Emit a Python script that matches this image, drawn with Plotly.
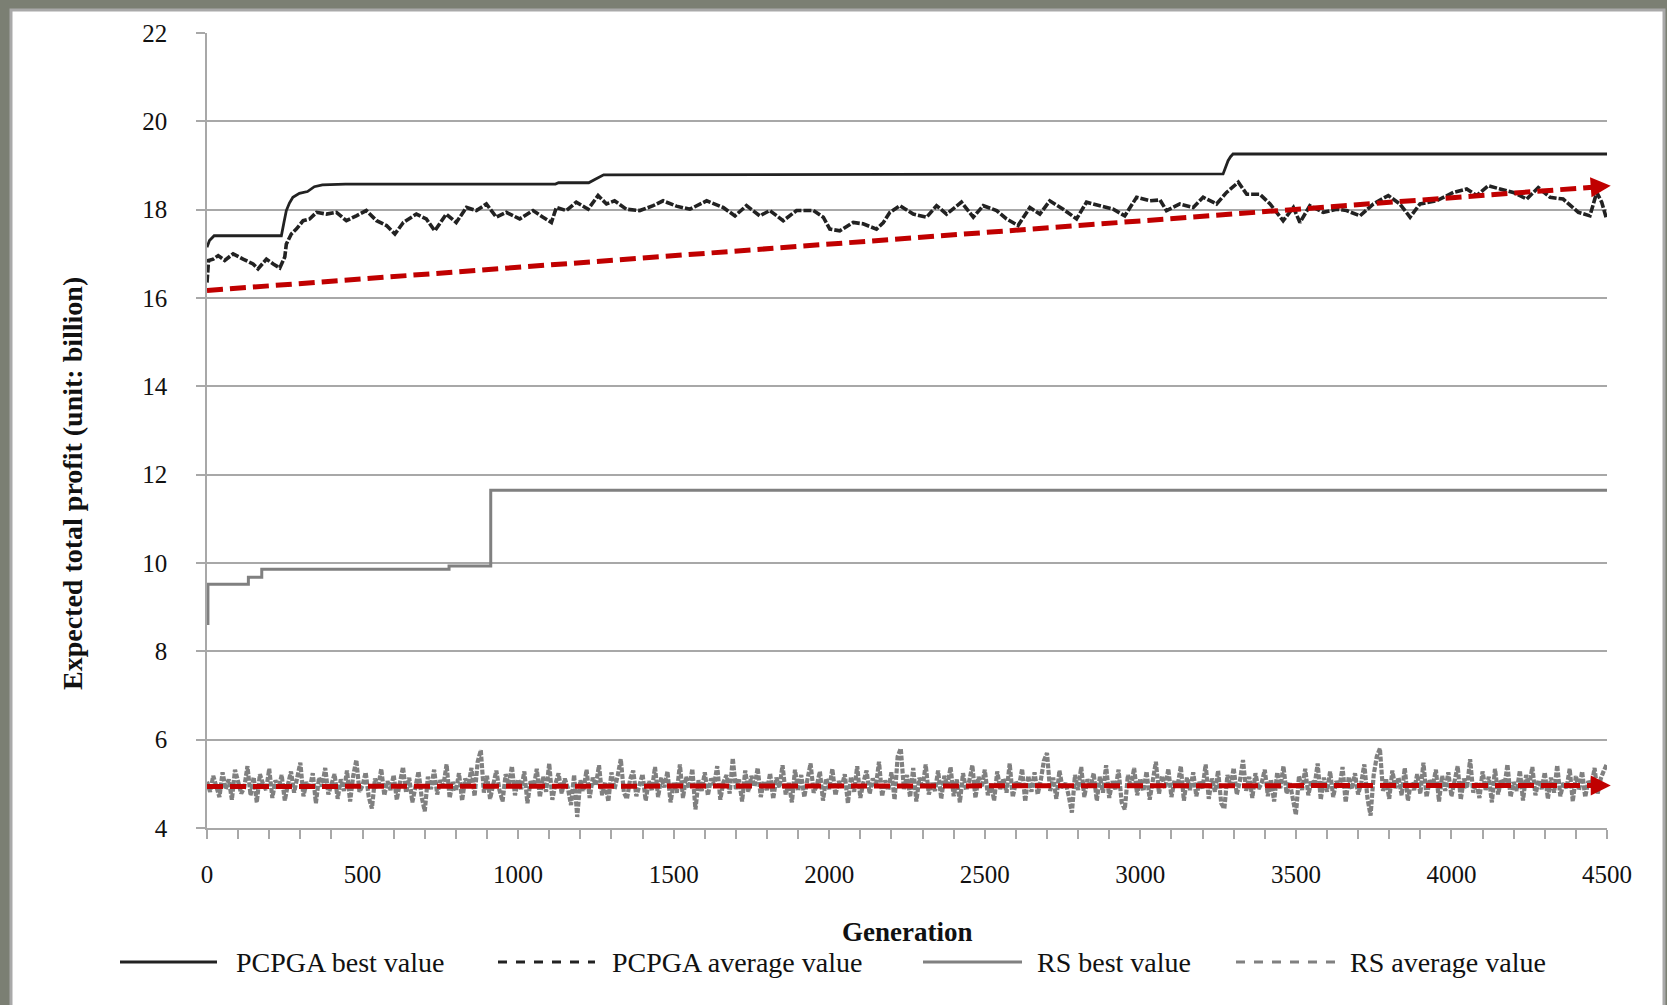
import plotly.graph_objects as go

# ---------------- data ----------------
pcpga_best_gen = [0, 8, 23, 239, 247, 255, 265, 276, 297, 323, 345, 371, 445,
                  1120, 1130, 1227, 1248, 1275, 3266, 3276, 3282, 3290, 3298, 4500]
pcpga_best_val = [17.15, 17.30, 17.41, 17.41, 17.70, 17.98, 18.15, 18.28, 18.37, 18.41, 18.52, 18.56, 18.58,
                  18.58, 18.61, 18.61, 18.69, 18.79, 18.81, 19.00, 19.11, 19.20, 19.26, 19.26]

pcpga_avg_gen = [0, 5, 20, 36, 57, 84, 116, 148, 164, 191,
                 213, 234, 250, 255, 271, 287, 309, 330, 352, 384,
                 416, 448, 480, 512, 545, 577, 604, 631, 673, 705,
                 732, 769, 801, 834, 866, 898, 930, 962, 1005, 1048,
                 1080, 1107, 1123, 1155, 1187, 1225, 1257, 1284, 1310, 1348,
                 1391, 1434, 1466, 1509, 1552, 1606, 1659, 1697, 1734, 1777,
                 1809, 1852, 1895, 1949, 1981, 2002, 2034, 2077, 2109, 2152,
                 2174, 2195, 2227, 2270, 2313, 2345, 2377, 2425, 2463, 2495,
                 2538, 2570, 2607, 2645, 2677, 2709, 2752, 2795, 2827, 2870,
                 2913, 2950, 2988, 3031, 3063, 3084, 3127, 3170, 3202, 3245,
                 3277, 3315, 3342, 3384, 3417, 3459, 3492, 3513, 3545, 3588,
                 3631, 3663, 3706, 3749, 3797, 3834, 3867, 3899, 3952, 4006,
                 4049, 4081, 4118, 4156, 4199, 4242, 4279, 4317, 4359, 4408,
                 4445, 4467, 4483, 4497]
pcpga_avg_val = [16.35, 16.85, 16.88, 16.96, 16.85, 17.00, 16.88, 16.77, 16.66, 16.88,
                 16.77, 16.68, 16.93, 17.22, 17.45, 17.56, 17.75, 17.79, 17.94, 17.90,
                 17.94, 17.75, 17.86, 17.98, 17.75, 17.64, 17.45, 17.71, 17.90, 17.79,
                 17.52, 17.90, 17.71, 18.05, 17.98, 18.13, 17.83, 17.94, 17.79, 17.98,
                 17.83, 17.71, 18.05, 17.98, 18.17, 18.01, 18.32, 18.13, 18.20, 18.01,
                 17.98, 18.09, 18.20, 18.08, 18.01, 18.20, 18.05, 17.86, 18.09, 17.86,
                 17.98, 17.75, 17.98, 17.98, 17.83, 17.56, 17.52, 17.71, 17.68, 17.56,
                 17.71, 17.94, 18.09, 17.90, 17.83, 18.09, 17.90, 18.17, 17.83, 18.09,
                 17.98, 17.79, 17.64, 18.05, 17.90, 18.20, 18.01, 17.79, 18.17, 18.09,
                 18.01, 17.86, 18.28, 18.20, 18.22, 17.98, 18.13, 18.05, 18.28, 18.13,
                 18.39, 18.62, 18.35, 18.35, 18.13, 17.75, 18.05, 17.71, 18.09, 17.94,
                 18.01, 17.98, 17.86, 18.13, 18.32, 18.13, 17.83, 18.13, 18.20, 18.39,
                 18.47, 18.32, 18.54, 18.47, 18.39, 18.24, 18.50, 18.28, 18.24, 17.94,
                 17.86, 18.39, 18.17, 17.83]

rs_best_gen = [0, 3, 133, 176, 778, 912, 4500]
rs_best_val = [8.63, 9.52, 9.68, 9.86, 9.93, 11.65, 11.65]

rs_avg_gen = list(range(0, 4501, 10))
rs_avg_val = [
    5.05, 4.82, 5.18, 4.96, 4.70, 5.26, 4.88, 5.10, 4.64, 5.32, 5.02, 4.78, 4.92, 5.40, 4.74, 5.15, 4.58, 5.22, 5.00, 4.86,
    5.34, 4.68, 5.08, 4.90, 5.20, 4.62, 4.98, 5.28, 4.80, 5.12, 5.48, 4.72, 5.04, 4.88, 5.24, 4.56, 5.14, 4.94, 5.36, 4.76,
    5.00, 5.22, 4.66, 5.10, 4.84, 5.30, 4.60, 5.18, 5.54, 4.82, 4.96, 5.26, 4.70, 4.44, 5.12, 4.90, 5.34, 4.74, 5.06, 4.86,
    5.20, 4.64, 5.02, 5.38, 4.80, 5.14, 4.58, 4.92, 5.28, 4.70, 4.38, 5.16, 4.88, 5.32, 4.76, 5.08, 4.96, 5.44, 4.68, 5.04,
    4.84, 5.24, 4.62, 5.12, 4.94, 5.36, 4.72, 5.50, 5.76, 4.80, 5.18, 4.66, 5.02, 5.30, 4.86, 4.60, 5.22, 4.98, 5.40, 4.74,
    5.10, 4.88, 5.28, 4.56, 5.06, 4.92, 5.34, 4.70, 5.16, 4.82, 5.46, 4.64, 5.00, 5.24, 4.78, 5.12, 4.90, 4.52, 5.20, 4.25,
    5.08, 4.84, 5.32, 4.68, 5.14, 4.96, 5.42, 4.74, 5.04, 4.60, 5.26, 4.88, 5.18, 5.56, 4.80, 4.66, 5.10, 5.30, 4.72, 4.94,
    5.22, 4.62, 5.06, 4.86, 5.38, 4.70, 5.14, 4.92, 5.28, 4.58, 5.02, 4.80, 5.44, 4.68, 5.16, 4.90, 5.34, 4.42, 5.08, 4.84,
    5.26, 4.74, 5.12, 4.98, 5.40, 4.64, 5.04, 5.20, 4.78, 5.58, 4.88, 5.10, 4.60, 5.30, 4.82, 5.18, 4.94, 5.36, 4.70, 5.06,
    4.86, 5.24, 4.66, 5.14, 4.92, 5.42, 4.76, 5.02, 4.58, 5.32, 4.84, 5.20, 4.70, 5.10, 5.46, 4.80, 4.96, 5.28, 4.62, 5.12,
    4.88, 5.34, 4.74, 5.06, 4.92, 5.22, 4.56, 5.16, 4.82, 5.40, 4.68, 5.04, 5.30, 4.78, 5.12, 4.94, 5.50, 4.72, 5.08, 4.86,
    5.26, 4.64, 5.62, 5.80, 4.88, 5.20, 4.70, 5.36, 4.60, 5.14, 4.90, 5.44, 4.76, 5.02, 4.84, 5.30, 4.66, 5.18, 4.96, 5.38,
    4.72, 5.10, 4.58, 5.24, 4.86, 5.06, 5.42, 4.68, 5.16, 4.92, 5.32, 4.74, 5.00, 4.62, 5.28, 4.88, 5.12, 4.80, 5.46, 4.70,
    5.04, 4.94, 5.34, 4.60, 5.18, 4.82, 5.26, 4.76, 5.08, 5.52, 5.70, 4.84, 5.14, 4.66, 5.30, 4.90, 5.02, 4.72, 4.35, 5.20,
    4.86, 5.38, 4.70, 5.10, 4.94, 5.24, 4.62, 5.16, 4.80, 5.42, 4.68, 5.06, 4.88, 5.32, 4.58, 4.42, 5.20, 4.92, 5.36, 4.74,
    5.12, 4.84, 5.28, 4.64, 5.02, 5.50, 4.78, 5.18, 4.90, 5.34, 4.70, 5.08, 4.96, 5.40, 4.62, 5.14, 4.86, 5.26, 4.72, 5.04,
    4.90, 5.44, 4.66, 5.12, 4.82, 5.30, 4.56, 4.44, 5.20, 4.94, 5.36, 4.76, 5.06, 5.54, 4.84, 5.16, 4.68, 5.24, 4.88, 5.02,
    5.32, 4.72, 5.10, 4.60, 5.26, 4.90, 5.40, 4.78, 5.04, 4.66, 4.30, 5.18, 4.86, 5.34, 4.74, 5.08, 4.96, 5.46, 4.64, 5.14,
    4.82, 5.28, 4.70, 5.06, 4.92, 5.38, 4.58, 5.16, 4.88, 5.24, 4.76, 5.02, 5.44, 4.68, 4.28, 5.20, 5.62, 5.80, 4.84, 5.10,
    4.66, 5.30, 4.90, 5.14, 4.74, 5.36, 4.62, 5.04, 4.86, 5.22, 4.78, 5.48, 4.70, 5.08, 4.94, 5.32, 4.60, 5.18, 4.84, 5.26,
    4.72, 5.06, 5.40, 4.64, 5.12, 4.90, 5.56, 4.80, 5.02, 4.68, 5.28, 4.86, 5.16, 4.58, 5.34, 4.76, 5.10, 4.92, 5.44, 4.70,
    5.04, 4.84, 5.30, 4.62, 5.20, 4.96, 5.38, 4.74, 5.08, 4.88, 5.26, 4.66, 5.14, 4.80, 5.42, 4.72, 5.02, 4.90, 5.34, 4.60,
    5.18, 4.86, 5.28, 4.70, 5.06, 4.94, 5.36, 4.78, 5.12, 5.30, 5.45]

trend_gen = [0, 4495]
pcpga_trend_val = [16.17, 18.53]
rs_trend_val = [4.94, 4.965]
arrow_tip_gen = 4512
pcpga_arrow_tip = 18.54
rs_arrow_tip = 4.965

x_tick_vals = [0, 500, 1000, 1500, 2000, 2500, 3000, 3500, 4000, 4500]
y_tick_vals = [4, 6, 8, 10, 12, 14, 16, 18, 20, 22]

legend_names = ["PCPGA best value", "PCPGA average value", "RS best value", "RS average value"]

# ---------------- layout helpers ----------------
W, H = 1667, 1005
L, R, T, B = 207, 1607, 33, 828


def px(xp):
    return (xp - L) / (R - L)


def py(yp):
    return (B - yp) / (B - T)


FONT = "Liberation Serif, Times New Roman, serif"
GRID = "#a8a8a8"
RED = "#c00000"
BLACK = "#222222"
GRAY = "#808080"

fig = go.Figure()
fig.add_trace(go.Scatter(x=rs_avg_gen, y=rs_avg_val, mode="lines",
                         line=dict(color=GRAY, width=4.2, dash="5px,1.5px"), name=legend_names[3]))
fig.add_trace(go.Scatter(x=rs_best_gen, y=rs_best_val, mode="lines",
                         line=dict(color=GRAY, width=3, shape="hv"), name=legend_names[2]))
fig.add_trace(go.Scatter(x=pcpga_best_gen, y=pcpga_best_val, mode="lines",
                         line=dict(color=BLACK, width=2.8), name=legend_names[0]))
fig.add_trace(go.Scatter(x=pcpga_avg_gen, y=pcpga_avg_val, mode="lines",
                         line=dict(color=BLACK, width=3.6, dash="8px,2px"), name=legend_names[1]))
fig.add_trace(go.Scatter(x=trend_gen, y=pcpga_trend_val, mode="lines",
                         line=dict(color=RED, width=5, dash="16px,7px"), name="PCPGA trend"))
fig.add_trace(go.Scatter(x=trend_gen, y=rs_trend_val, mode="lines",
                         line=dict(color=RED, width=5, dash="16px,7px"), name="RS trend"))

annotations = []
for tip_y, trend in [(pcpga_arrow_tip, pcpga_trend_val), (rs_arrow_tip, rs_trend_val)]:
    annotations.append(dict(x=arrow_tip_gen, y=tip_y, xref="x", yref="y",
                            ax=trend_gen[1] - 60, ay=trend[1] - (trend[1] - trend[0]) * 60 / 4495,
                            axref="x", ayref="y", text="", showarrow=True,
                            arrowhead=2, arrowsize=1.0, arrowwidth=4, arrowcolor=RED, standoff=0))

# axis titles
annotations.append(dict(x=0.5, y=py(932), xref="paper", yref="paper", text="<b>Generation</b>",
                        showarrow=False, font=dict(family=FONT, size=27, color="#111"),
                        xanchor="center", yanchor="middle"))
annotations.append(dict(x=px(72), y=py(484), xref="paper", yref="paper",
                        text="<b>Expected total profit (unit: billion)</b>", textangle=-90,
                        showarrow=False, font=dict(family=FONT, size=28, color="#111"),
                        xanchor="center", yanchor="middle"))

# legend (manual, long line samples like the original)
shapes = [dict(type="rect", xref="paper", yref="paper", x0=px(11), x1=px(1664), y0=py(1012), y1=py(10),
               fillcolor="white", line=dict(color="#a9a9a9", width=3), layer="below")]
leg_row = py(962)
leg_items = [(120, 217, 234, BLACK, "solid"), (498, 595, 610, BLACK, "dash"),
             (923, 1022, 1035, GRAY, "solid"), (1236, 1335, 1348, GRAY, "dash")]
for name, (x0, x1, xt, col, dsh) in zip(legend_names, leg_items):
    shapes.append(dict(type="line", xref="paper", yref="paper", x0=px(x0), x1=px(x1), y0=leg_row, y1=leg_row,
                       line=dict(color=col, width=3, dash=dsh)))
    annotations.append(dict(x=px(xt), y=leg_row, xref="paper", yref="paper", text=name, showarrow=False,
                            xanchor="left", yanchor="middle", font=dict(family=FONT, size=28, color="#111")))

fig.update_layout(
    width=W, height=H, autosize=False,
    margin=dict(l=L, r=W - R, t=T, b=H - B, pad=0),
    paper_bgcolor="#7b7f73", plot_bgcolor="white",
    showlegend=False,
    font=dict(family=FONT, size=25, color="#111"),
    shapes=shapes, annotations=annotations,
    xaxis=dict(range=[0, 4500], tickvals=x_tick_vals, ticks="outside", ticklen=9, tickwidth=1.5,
               tickcolor=GRID, showgrid=False, zeroline=False, showline=True, linecolor=GRID, linewidth=1.5,
               ticklabelstandoff=14, tickfont=dict(family=FONT, size=25, color="#111"),
               minor=dict(dtick=100, tick0=0, ticks="outside", ticklen=9, tickwidth=1.5, tickcolor=GRID,
                          showgrid=False)),
    yaxis=dict(range=[4, 22], tickvals=y_tick_vals, ticks="outside", ticklen=9, tickwidth=1.5,
               tickcolor=GRID, showgrid=True, gridcolor=GRID, gridwidth=1.5, zeroline=False,
               showline=True, linecolor=GRID, linewidth=1.5, ticklabelstandoff=24,
               tickfont=dict(family=FONT, size=25, color="#111")),
)

fig.write_html("out.html", config={"displayModeBar": False},
               post_script="document.body.style.margin='0';document.body.style.overflow='hidden';")
